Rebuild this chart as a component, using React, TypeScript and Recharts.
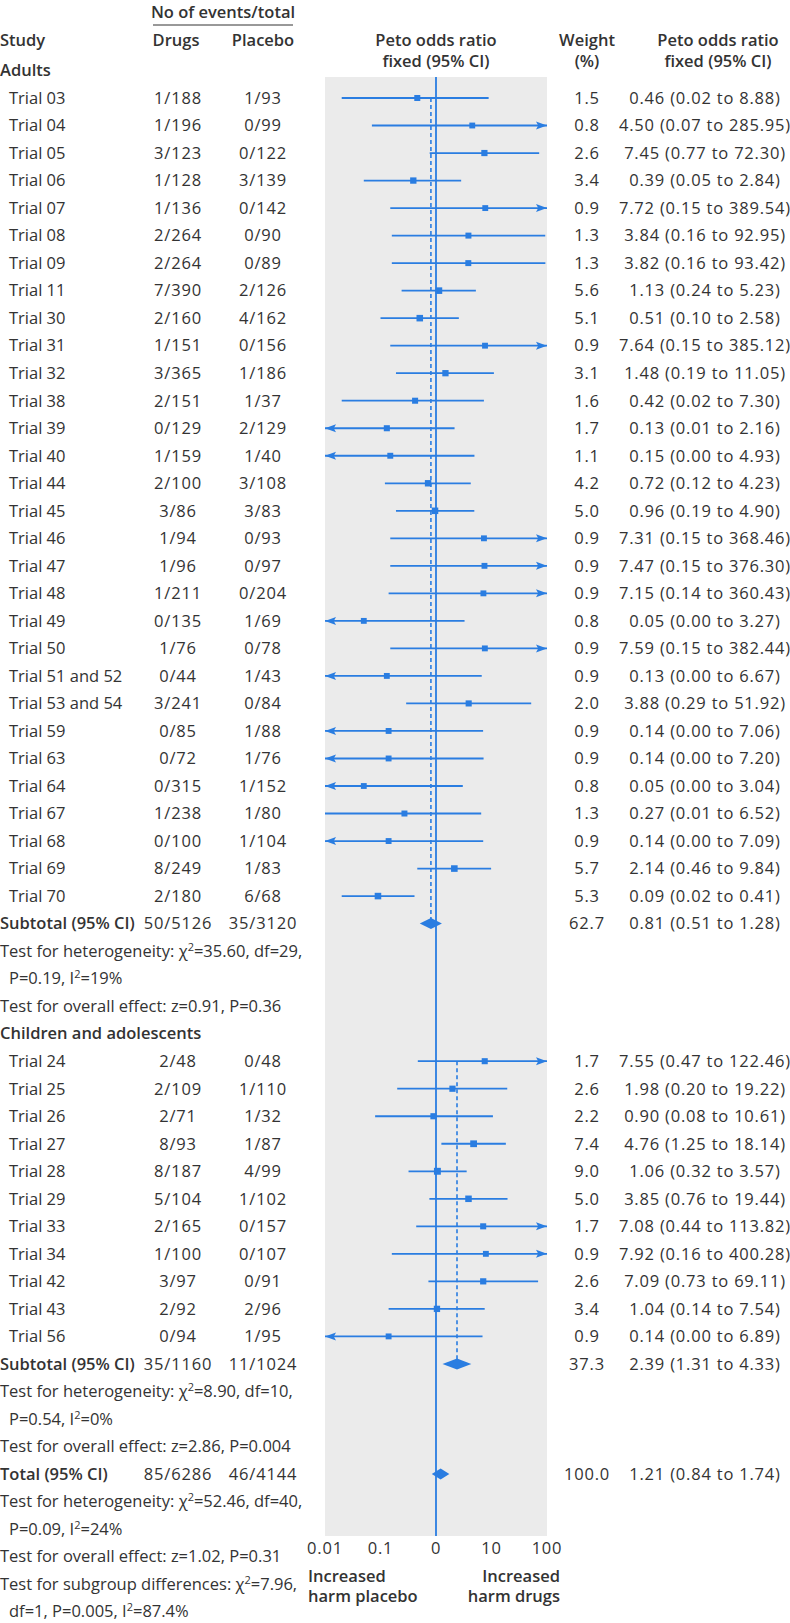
import React from 'react'
import {
  ComposedChart,
  XAxis,
  YAxis,
  CartesianGrid,
  Scatter,
  ErrorBar,
  ReferenceLine,
} from 'recharts'

// ─── Data ─────────────────────────────────────────────────────────────────────

const adultTrials = ['Trial 03', 'Trial 04', 'Trial 05', 'Trial 06', 'Trial 07', 'Trial 08', 'Trial 09', 'Trial 11', 'Trial 30', 'Trial 31', 'Trial 32', 'Trial 38', 'Trial 39', 'Trial 40', 'Trial 44', 'Trial 45', 'Trial 46', 'Trial 47', 'Trial 48', 'Trial 49', 'Trial 50', 'Trial 51 and 52', 'Trial 53 and 54', 'Trial 59', 'Trial 63', 'Trial 64', 'Trial 67', 'Trial 68', 'Trial 69', 'Trial 70']
const adultDrugs = ['1/188', '1/196', '3/123', '1/128', '1/136', '2/264', '2/264', '7/390', '2/160', '1/151', '3/365', '2/151', '0/129', '1/159', '2/100', '3/86', '1/94', '1/96', '1/211', '0/135', '1/76', '0/44', '3/241', '0/85', '0/72', '0/315', '1/238', '0/100', '8/249', '2/180']
const adultPlacebo = ['1/93', '0/99', '0/122', '3/139', '0/142', '0/90', '0/89', '2/126', '4/162', '0/156', '1/186', '1/37', '2/129', '1/40', '3/108', '3/83', '0/93', '0/97', '0/204', '1/69', '0/78', '1/43', '0/84', '1/88', '1/76', '1/152', '1/80', '1/104', '1/83', '6/68']
const adultWeight = [1.5, 0.8, 2.6, 3.4, 0.9, 1.3, 1.3, 5.6, 5.1, 0.9, 3.1, 1.6, 1.7, 1.1, 4.2, 5.0, 0.9, 0.9, 0.9, 0.8, 0.9, 0.9, 2.0, 0.9, 0.9, 0.8, 1.3, 0.9, 5.7, 5.3]
const adultOR = [0.46, 4.5, 7.45, 0.39, 7.72, 3.84, 3.82, 1.13, 0.51, 7.64, 1.48, 0.42, 0.13, 0.15, 0.72, 0.96, 7.31, 7.47, 7.15, 0.05, 7.59, 0.13, 3.88, 0.14, 0.14, 0.05, 0.27, 0.14, 2.14, 0.09]
const adultLow = [0.02, 0.07, 0.77, 0.05, 0.15, 0.16, 0.16, 0.24, 0.1, 0.15, 0.19, 0.02, 0.008, 0.0, 0.12, 0.19, 0.15, 0.15, 0.14, 0.0, 0.15, 0.0, 0.29, 0.0, 0.0, 0.0, 0.01, 0.0, 0.46, 0.02]
const adultHigh = [8.88, 285.95, 72.3, 2.84, 389.54, 92.95, 93.42, 5.23, 2.58, 385.12, 11.05, 7.3, 2.16, 4.93, 4.23, 4.9, 368.46, 376.3, 360.43, 3.27, 382.44, 6.67, 51.92, 7.06, 7.2, 3.04, 6.52, 7.09, 9.84, 0.41]

const childTrials = ['Trial 24', 'Trial 25', 'Trial 26', 'Trial 27', 'Trial 28', 'Trial 29', 'Trial 33', 'Trial 34', 'Trial 42', 'Trial 43', 'Trial 56']
const childDrugs = ['2/48', '2/109', '2/71', '8/93', '8/187', '5/104', '2/165', '1/100', '3/97', '2/92', '0/94']
const childPlacebo = ['0/48', '1/110', '1/32', '1/87', '4/99', '1/102', '0/157', '0/107', '0/91', '2/96', '1/95']
const childWeight = [1.7, 2.6, 2.2, 7.4, 9.0, 5.0, 1.7, 0.9, 2.6, 3.4, 0.9]
const childOR = [7.55, 1.98, 0.9, 4.76, 1.06, 3.85, 7.08, 7.92, 7.09, 1.04, 0.14]
const childLow = [0.47, 0.2, 0.08, 1.25, 0.32, 0.76, 0.44, 0.16, 0.73, 0.14, 0.0]
const childHigh = [122.46, 19.22, 10.61, 18.14, 3.57, 19.44, 113.82, 400.28, 69.11, 7.54, 6.89]

const summaryLabels = ['Subtotal (95% CI)', 'Subtotal (95% CI)', 'Total (95% CI)']
const summaryDrugs = ['50/5126', '35/1160', '85/6286']
const summaryPlacebo = ['35/3120', '11/1024', '46/4144']
const summaryWeight = [62.7, 37.3, 100.0]
const summaryOR = [0.81, 2.39, 1.21]
const summaryLow = [0.51, 1.31, 0.84]
const summaryHigh = [1.28, 4.33, 1.74]

const adultNotes = ['Test for heterogeneity: χ^2=35.60, df=29,', 'P=0.19, I^2=19%', 'Test for overall effect: z=0.91, P=0.36']
const childNotes = ['Test for heterogeneity: χ^2=8.90, df=10,', 'P=0.54, I^2=0%', 'Test for overall effect: z=2.86, P=0.004']
const totalNotes = ['Test for heterogeneity: χ^2=52.46, df=40,', 'P=0.09, I^2=24%', 'Test for overall effect: z=1.02, P=0.31', 'Test for subgroup differences: χ^2=7.96,', 'df=1, P=0.005, I^2=87.4%']

const xTicks = [0.01, 0.1, 1, 10, 100]
const xTickLabels = ['0.01', '0.1', '0', '10', '100']

// ─── Layout / style ───────────────────────────────────────────────────────────

const BLUE = '#2a7de1'
const TEXT = '#333333'
const PANEL = '#ebebeb'
const FONT = '"Open Sans", "Noto Sans", sans-serif'
const FS = 16.5
const BASE = 5.8
const NUM_SPACING = 0.8
const X_MIN = 0.01
const X_MAX = 100
const ROW_MIN = -0.763
const ROW_MAX = 52.253
const COL = { label: 0, indent: 9, drugs: 178, placebo: 263, weight: 587, ci: 705 }

// ─── Build table rows and marks ───────────────────────────────────────────────

type Row = {
  k: number
  label: string
  bold?: boolean
  indent?: boolean
  drugs?: string
  placebo?: string
  weight?: string
  ci?: string
}

const fmt2 = (v: number) => v.toFixed(2)
const ciLabel = (or: number, lo: number, hi: number) => `${fmt2(or)} (${fmt2(lo)} to ${fmt2(hi)})`

const rows: Row[] = []
const trialPoints: { x: number; y: number; w: number; err: [number, number] }[] = []
const arrowPoints: { x: number; y: number; dir: number }[] = []
const diamonds: { k: number; pts: { x: number; y: number }[] }[] = []
const dashed: { x: number; from: number; to: number }[] = []

let cursor = -1

function addTrials(
  names: string[], drugs: string[], placebo: string[], weight: number[],
  or: number[], low: number[], high: number[],
) {
  const first = cursor
  names.forEach((n, i) => {
    rows.push({
      k: cursor, label: n, indent: true, drugs: drugs[i], placebo: placebo[i],
      weight: weight[i].toFixed(1), ci: ciLabel(or[i], low[i], high[i]),
    })
    const lo = Math.max(low[i], X_MIN)
    const hi = Math.min(high[i], X_MAX)
    trialPoints.push({ x: or[i], y: cursor, w: weight[i], err: [or[i] - lo, hi - or[i]] })
    if (low[i] < X_MIN) arrowPoints.push({ x: X_MIN, y: cursor, dir: -1 })
    if (high[i] > X_MAX) arrowPoints.push({ x: X_MAX, y: cursor, dir: 1 })
    cursor++
  })
  return first
}

function addSummary(s: number, firstTrial: number | null) {
  rows.push({
    k: cursor, label: summaryLabels[s], bold: true, drugs: summaryDrugs[s], placebo: summaryPlacebo[s],
    weight: summaryWeight[s].toFixed(1), ci: ciLabel(summaryOR[s], summaryLow[s], summaryHigh[s]),
  })
  diamonds.push({
    k: cursor,
    pts: [
      { x: summaryLow[s], y: cursor },
      { x: summaryOR[s], y: cursor },
      { x: summaryHigh[s], y: cursor },
    ],
  })
  if (firstTrial !== null) dashed.push({ x: summaryOR[s], from: firstTrial, to: cursor })
  cursor++
}

function addNotes(notes: string[]) {
  notes.forEach((t) => {
    rows.push({ k: cursor, label: t, indent: !t.startsWith('Test') })
    cursor++
  })
}

rows.push({ k: cursor++, label: 'Adults', bold: true })
const adultFirst = addTrials(adultTrials, adultDrugs, adultPlacebo, adultWeight, adultOR, adultLow, adultHigh)
addSummary(0, adultFirst)
addNotes(adultNotes)
rows.push({ k: cursor++, label: 'Children and adolescents', bold: true })
const childFirst = addTrials(childTrials, childDrugs, childPlacebo, childWeight, childOR, childLow, childHigh)
addSummary(1, childFirst)
addNotes(childNotes)
addSummary(2, null)
addNotes(totalNotes)

const rowByK = new Map(rows.map((r) => [r.k, r]))
const rowTicks = rows.map((r) => r.k)

// ─── Renderers ────────────────────────────────────────────────────────────────

function Rich({ x, y, text, anchor = 'start', weight = 400, spacing = 0 }: {
  x: number; y: number; text: string; anchor?: 'start' | 'middle' | 'end'; weight?: number; spacing?: number
}) {
  const parts = text.split('^2')
  return (
    <text
      x={x}
      y={y}
      textAnchor={anchor}
      fontFamily={FONT}
      fontSize={FS}
      fontWeight={weight}
      fill={TEXT}
      style={spacing ? { letterSpacing: `${spacing}px` } : undefined}
    >
      {parts.map((p, i) =>
        i === 0 ? (
          <tspan key={i}>{p}</tspan>
        ) : (
          <React.Fragment key={i}>
            <tspan dy={-6} fontSize={11}>2</tspan>
            <tspan dy={6}>{p}</tspan>
          </React.Fragment>
        ),
      )}
    </text>
  )
}

function LeftTick(props: any) {
  const row = rowByK.get(Math.round(props.payload.value))
  if (!row) return <g />
  const y = props.y + BASE
  return (
    <g>
      <Rich x={row.indent ? COL.indent : COL.label} y={y} text={row.label} weight={row.bold ? 600 : 400} />
      {row.drugs && <Rich x={COL.drugs} y={y} text={row.drugs} anchor="middle" spacing={NUM_SPACING} />}
      {row.placebo && <Rich x={COL.placebo} y={y} text={row.placebo} anchor="middle" spacing={NUM_SPACING} />}
    </g>
  )
}

function RightTick(props: any) {
  const row = rowByK.get(Math.round(props.payload.value))
  if (!row || !row.weight) return <g />
  const y = props.y + BASE
  return (
    <g>
      <Rich x={COL.weight} y={y} text={row.weight} anchor="middle" spacing={NUM_SPACING} />
      <Rich x={COL.ci} y={y} text={row.ci ?? ''} anchor="middle" spacing={NUM_SPACING} />
    </g>
  )
}

const renderSquare = (p: any) => {
  const s = 5.4 + 0.5 * Math.sqrt(p.payload.w)
  return <rect x={p.cx - s / 2} y={p.cy - s / 2} width={s} height={s} fill={BLUE} />
}

const renderArrow = (p: any) => {
  const d = p.payload.dir
  const L = 11
  const hw = 4
  const t = p.cx
  return (
    <polygon
      points={`${t},${p.cy} ${t - d * L},${p.cy - hw} ${t - d * L * 0.8},${p.cy} ${t - d * L},${p.cy + hw}`}
      fill={BLUE}
    />
  )
}

const renderDiamond = (p: any) => {
  const pts = p.points
  if (!pts || pts.length < 3) return <g />
  const [a, m, b] = pts
  const h = 5.5
  return (
    <polygon
      points={`${a.x},${a.y} ${m.x},${m.y - h} ${b.x},${b.y} ${m.x},${m.y + h}`}
      fill={BLUE}
    />
  )
}

const noShape = () => <g />

// ─── App ──────────────────────────────────────────────────────────────────────

export default function App() {
  return (
    <div style={{ position: 'absolute', left: 0, top: 0, width: 790, height: 1623, background: '#fff' }}>
      <ComposedChart width={790} height={1623} margin={{ top: 77, right: 0, bottom: 57, left: 0 }}>
        <CartesianGrid yAxisId="left" horizontal={false} vertical={false} fill={PANEL} fillOpacity={1} />
        <XAxis
          type="number"
          dataKey="x"
          scale="log"
          domain={[X_MIN, X_MAX]}
          allowDataOverflow
          ticks={xTicks}
          interval={0}
          tickFormatter={(v) => xTickLabels[xTicks.indexOf(v)] ?? String(v)}
          axisLine={false}
          tickLine={false}
          tickSize={6}
          tickMargin={0}
          height={30}
          tick={{ fontSize: FS, fill: TEXT, fontFamily: FONT, letterSpacing: NUM_SPACING }}
        />
        <YAxis
          yAxisId="left"
          type="number"
          dataKey="y"
          domain={[ROW_MIN, ROW_MAX]}
          reversed
          allowDataOverflow
          ticks={rowTicks}
          interval={0}
          width={325}
          axisLine={false}
          tickLine={false}
          tick={(p: any) => <LeftTick {...p} />}
        />
        <YAxis
          yAxisId="right"
          orientation="right"
          type="number"
          dataKey="y"
          domain={[ROW_MIN, ROW_MAX]}
          reversed
          allowDataOverflow
          ticks={rowTicks}
          interval={0}
          width={243}
          axisLine={false}
          tickLine={false}
          tick={(p: any) => <RightTick {...p} />}
        />
        <ReferenceLine yAxisId="left" x={1} stroke={BLUE} strokeWidth={1.8} />
        {dashed.map((d) => (
          <ReferenceLine
            key={`d${d.from}`}
            yAxisId="left"
            segment={[{ x: d.x, y: d.from }, { x: d.x, y: d.to }]}
            stroke={BLUE}
            strokeWidth={1.6}
            strokeDasharray="4 3"
          />
        ))}
        <Scatter yAxisId="left" data={trialPoints} shape={renderSquare} isAnimationActive={false}>
          <ErrorBar dataKey="err" direction="x" width={0} stroke={BLUE} strokeWidth={1.8} isAnimationActive={false} />
        </Scatter>
        <Scatter yAxisId="left" data={arrowPoints} shape={renderArrow} isAnimationActive={false} />
        {diamonds.map((d) => (
          <Scatter
            key={`m${d.k}`}
            yAxisId="left"
            data={d.pts}
            shape={noShape}
            line={renderDiamond}
            isAnimationActive={false}
          />
        ))}
      </ComposedChart>
      <svg width={790} height={1623} style={{ position: 'absolute', left: 0, top: 0, pointerEvents: 'none' }}>
        <Rich x={223} y={12 + BASE} text="No of events/total" anchor="middle" weight={600} />
        <line x1={153} x2={293} y1={25} y2={25} stroke={TEXT} strokeWidth={1} />
        <Rich x={0} y={40 + BASE} text="Study" weight={600} />
        <Rich x={176} y={40 + BASE} text="Drugs" anchor="middle" weight={600} />
        <Rich x={263} y={40 + BASE} text="Placebo" anchor="middle" weight={600} />
        <Rich x={436} y={40 + BASE} text="Peto odds ratio" anchor="middle" weight={600} />
        <Rich x={436} y={61 + BASE} text="fixed (95% CI)" anchor="middle" weight={600} />
        <Rich x={587} y={40 + BASE} text="Weight" anchor="middle" weight={600} />
        <Rich x={587} y={61 + BASE} text="(%)" anchor="middle" weight={600} />
        <Rich x={718} y={40 + BASE} text="Peto odds ratio" anchor="middle" weight={600} />
        <Rich x={718} y={61 + BASE} text="fixed (95% CI)" anchor="middle" weight={600} />
        <Rich x={308} y={1576 + BASE} text="Increased" weight={600} />
        <Rich x={308} y={1596 + BASE} text="harm placebo" weight={600} />
        <Rich x={560} y={1576 + BASE} text="Increased" anchor="end" weight={600} />
        <Rich x={560} y={1596 + BASE} text="harm drugs" anchor="end" weight={600} />
      </svg>
    </div>
  )
}
